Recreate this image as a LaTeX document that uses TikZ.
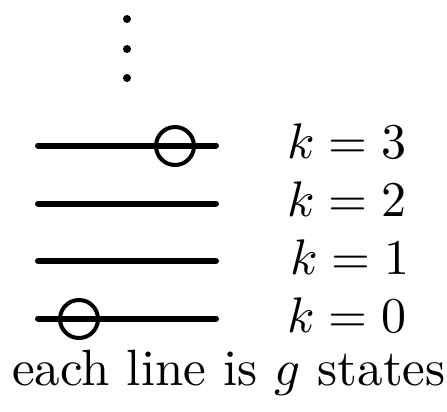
\documentclass[tikz,border=0pt]{standalone}
\usepackage{graphicx}
\begin{document}
\begin{tikzpicture}[x=1pt,y=-1pt,
  level/.style={line width=6pt,line cap=round},
  marker/.style={circle,draw,line width=4pt,minimum size=38pt,inner sep=0pt},
  vdot/.style={circle,fill,inner sep=0pt,minimum size=8pt},
  lbl/.style={anchor=base,inner sep=0pt}]
\useasboundingbox (0,0) rectangle (447,412);
\node[vdot] (d1) at (127,19) {};
\node[vdot] (d2) at (127,49) {};
\node[vdot] (d3) at (127,78) {};
\coordinate (l3a) at (38,145.5); \coordinate (l3b) at (216,145.5);
\coordinate (l2a) at (38,203.5); \coordinate (l2b) at (216,203.5);
\coordinate (l1a) at (38,261); \coordinate (l1b) at (216,261);
\coordinate (l0a) at (38,318.5); \coordinate (l0b) at (216,318.5);
\draw[level] (l3a) -- (l3b);
\draw[level] (l2a) -- (l2b);
\draw[level] (l1a) -- (l1b);
\draw[level] (l0a) -- (l0b);
\node[marker] (c3) at (175,146) {};
\node[marker] (c0) at (79,319) {};
\node[lbl] (k3) at (347,158) {\scalebox{5}{$k=3$}};
\node[lbl] (k2) at (347,216) {\scalebox{5}{$k=2$}};
\node[lbl] (k1) at (350,274) {\scalebox{5}{$k=1$}};
\node[lbl] (k0) at (347,332) {\scalebox{5}{$k=0$}};
\node[lbl] (cap) at (229,385) {\scalebox{5.1}{each line is $g$ states}};
\end{tikzpicture}
\end{document}
